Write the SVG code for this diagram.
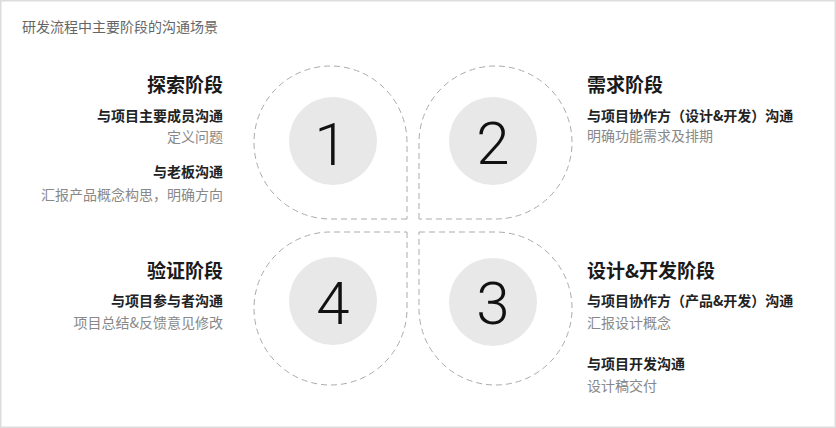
<svg xmlns="http://www.w3.org/2000/svg" width="836" height="428" viewBox="0 0 836 428">
<style>
text{font-family:"Noto Sans CJK SC","Liberation Sans",sans-serif;}
.frame{fill:#fff;stroke:#dcdcdc;stroke-width:1.5;}
.petal{fill:none;stroke:#ababab;stroke-width:1;stroke-dasharray:6 4;}
.disc{fill:#e8e8e8;}
.num{font-family:Roboto,"Liberation Sans",Arial,sans-serif;font-weight:300;font-size:60px;fill:#111;text-anchor:middle;}
.title{font-size:14px;fill:#666;}
.h{font-size:19px;font-weight:700;fill:#1a1a1a;}
.s{font-size:14px;font-weight:700;fill:#222;}
.b{font-size:14px;fill:#888;}
.r{text-anchor:end;}
</style>
<rect class="frame" x="0.75" y="0.75" width="834.5" height="426.5"/>
<text class="title" x="22" y="32">研发流程中主要阶段的沟通场景</text>
<g id="connectors"/>
<g id="node1">
<path class="petal" d="M407,219 L330.5,219 A76.5,76.5 0 0 1 254,142.5 A76.5,76.5 0 0 1 330.5,66 A76.5,76.5 0 0 1 407,142.5 Z"/>
<circle class="disc" cx="333" cy="141" r="44"/>
<text class="num" x="331" y="165">1</text>
<text class="h r" x="223" y="92">探索阶段</text>
<text class="s r" x="223" y="121">与项目主要成员沟通</text>
<text class="b r" x="223" y="142">定义问题</text>
<text class="s r" x="223" y="177">与老板沟通</text>
<text class="b r" x="223" y="200">汇报产品概念构思，明确方向</text>
</g>
<g id="node2">
<path class="petal" d="M419,219 L419,142.5 A76.5,76.5 0 0 1 495.5,66 A76.5,76.5 0 0 1 572,142.5 A76.5,76.5 0 0 1 495.5,219 Z"/>
<circle class="disc" cx="493" cy="141" r="44"/>
<text class="num" x="493" y="164">2</text>
<text class="h" x="587" y="92">需求阶段</text>
<text class="s" x="587" y="121">与项目协作方（设计&amp;开发）沟通</text>
<text class="b" x="587" y="141">明确功能需求及排期</text>
</g>
<g id="node3">
<path class="petal" d="M419,232 L495.5,232 A76.5,76.5 0 0 1 572,308.5 A76.5,76.5 0 0 1 495.5,385 A76.5,76.5 0 0 1 419,308.5 Z"/>
<circle class="disc" cx="493" cy="302" r="44"/>
<text class="num" x="493" y="324">3</text>
<text class="h" x="587" y="278">设计&amp;开发阶段</text>
<text class="s" x="587" y="306">与项目协作方（产品&amp;开发）沟通</text>
<text class="b" x="587" y="328">汇报设计概念</text>
<text class="s" x="587" y="369">与项目开发沟通</text>
<text class="b" x="587" y="391">设计稿交付</text>
</g>
<g id="node4">
<path class="petal" d="M407,232 L407,308.5 A76.5,76.5 0 0 1 330.5,385 A76.5,76.5 0 0 1 254,308.5 A76.5,76.5 0 0 1 330.5,232 Z"/>
<circle class="disc" cx="333" cy="301" r="44"/>
<text class="num" x="333" y="324">4</text>
<text class="h r" x="223" y="278">验证阶段</text>
<text class="s r" x="223" y="306">与项目参与者沟通</text>
<text class="b r" x="223" y="328">项目总结&amp;反馈意见修改</text>
</g>
</svg>
